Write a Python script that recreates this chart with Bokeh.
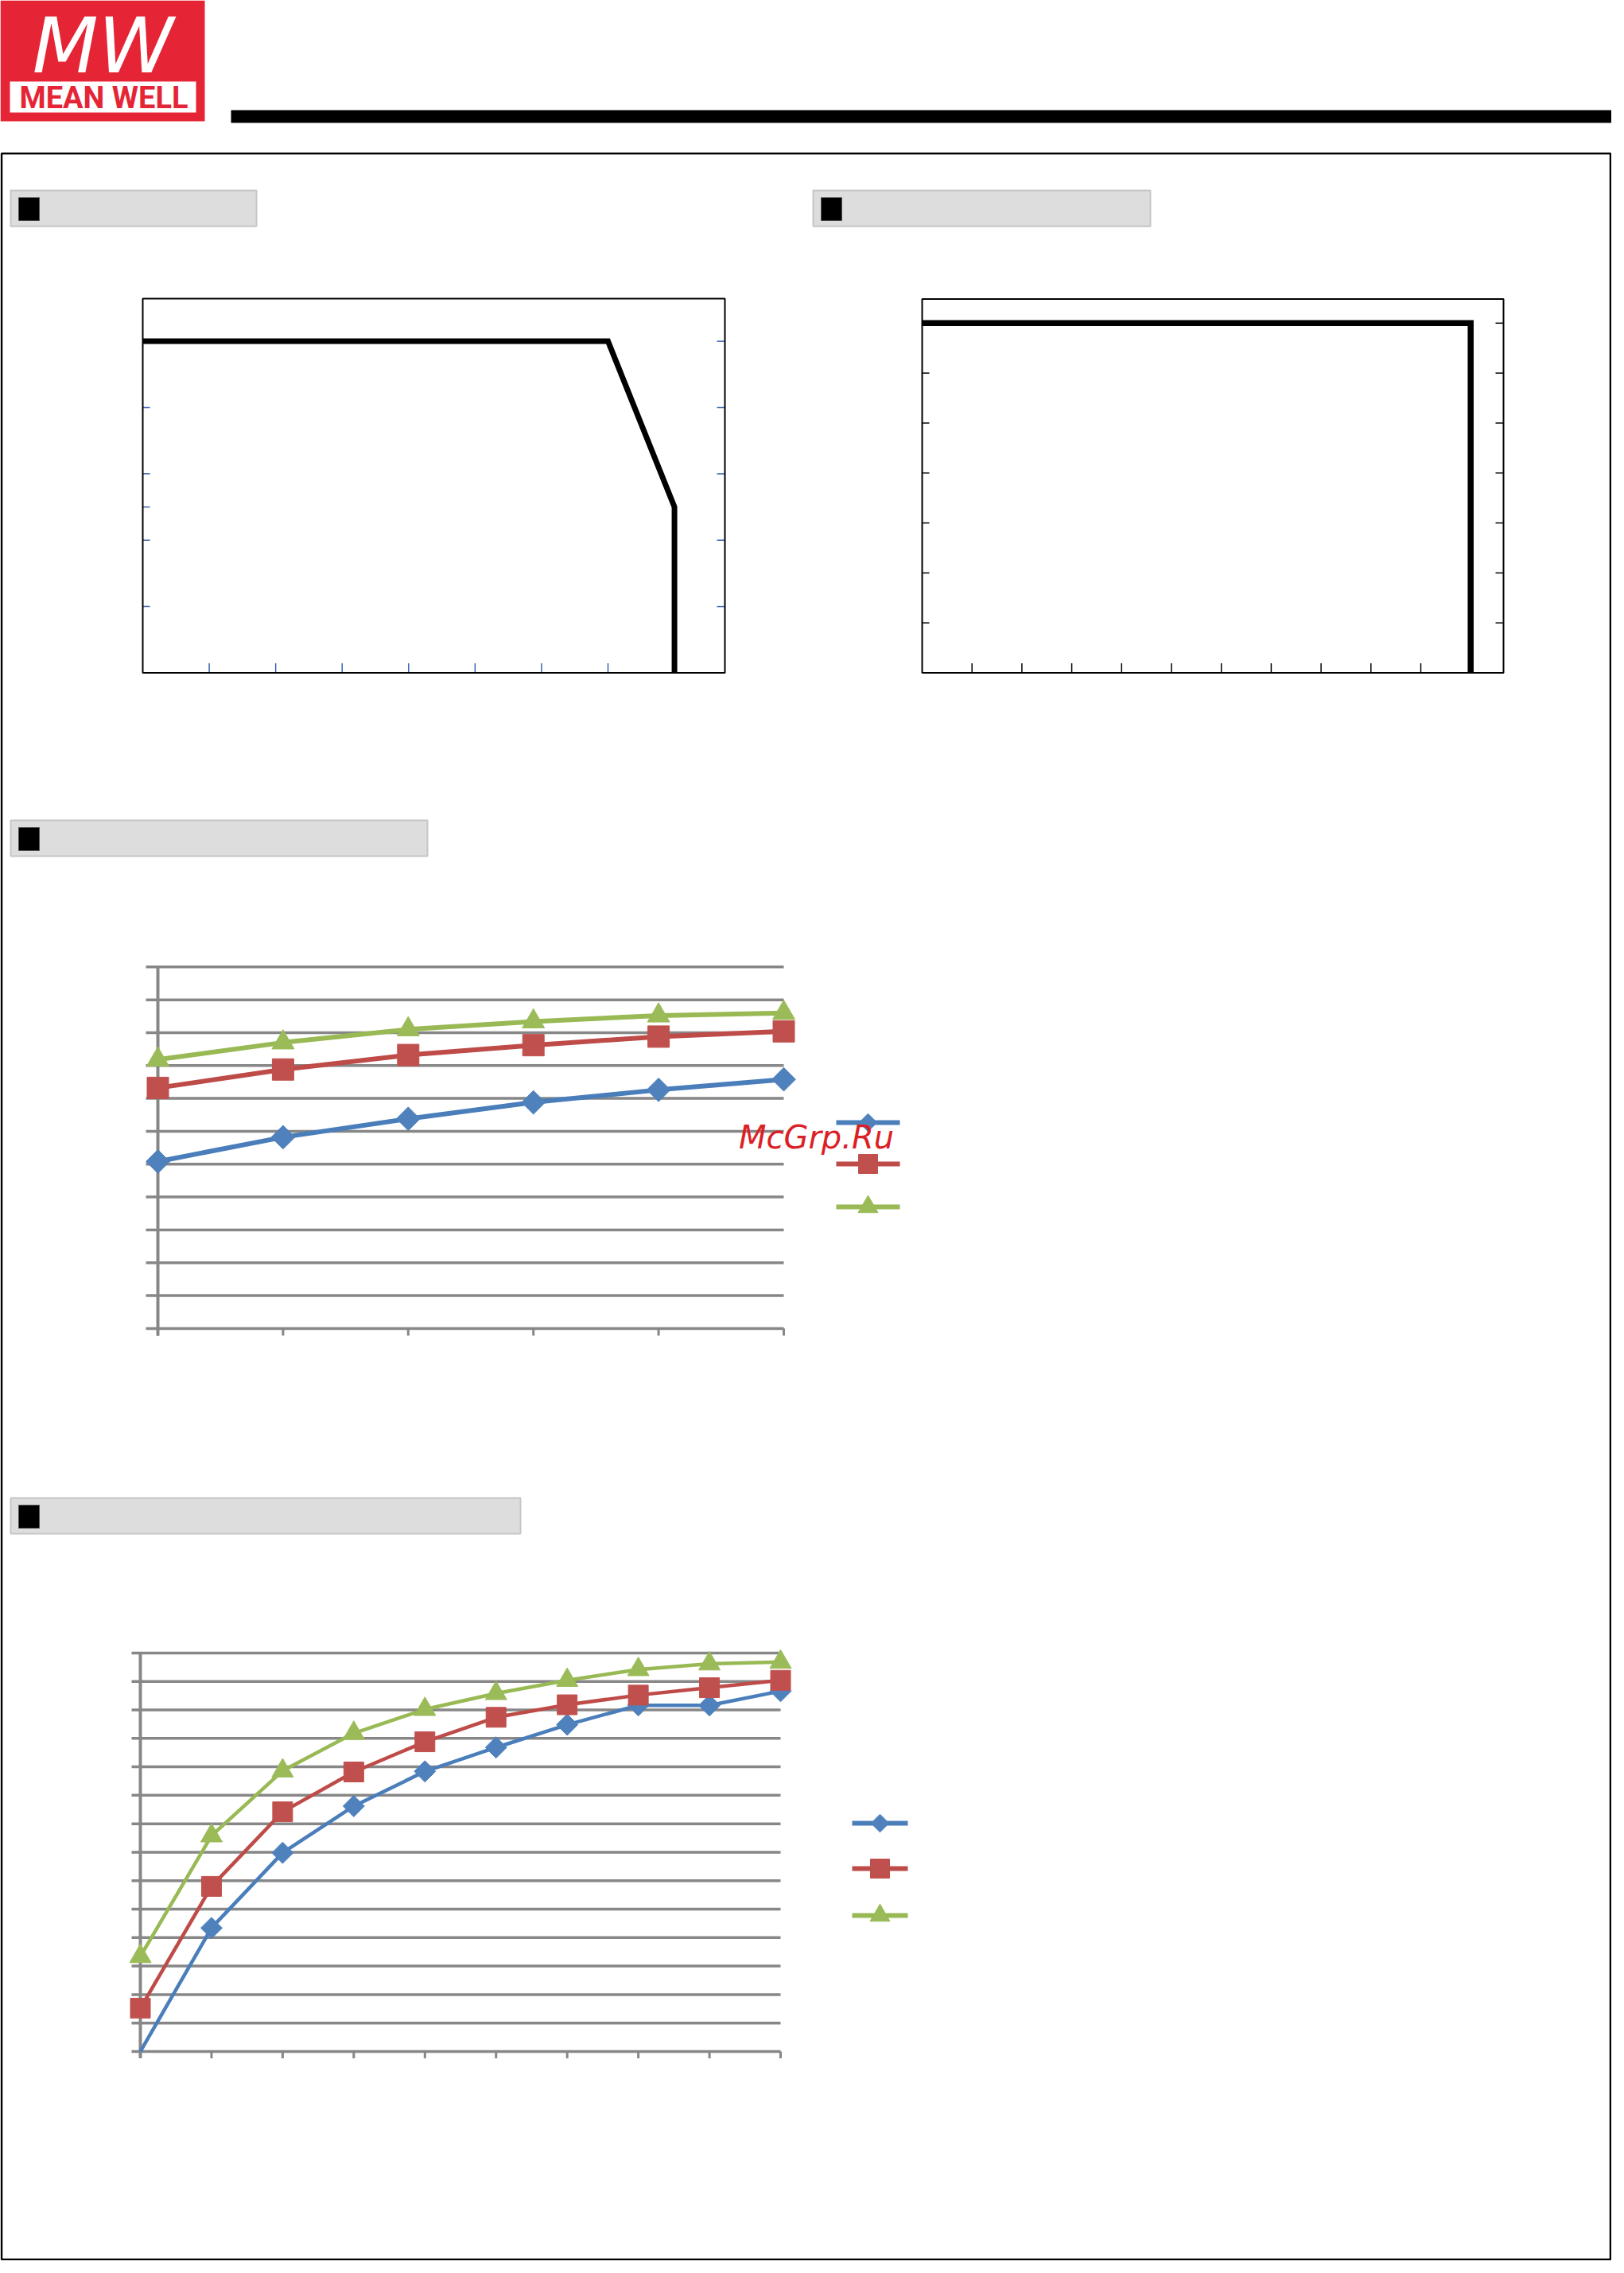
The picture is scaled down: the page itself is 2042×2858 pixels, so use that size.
import math
from bokeh.plotting import figure
from bokeh.models import Range1d
from bokeh.embed import file_html
from bokeh.resources import INLINE
from bokeh.core.properties import value

# ---------------- data ----------------
# Derating curve (ambient temperature vs load %)
derate_temp = [-30, 40, 50, 50]
derate_load = [100, 100, 50, 0]
derate_xticks = [-20, -10, 0, 10, 20, 30, 40]
derate_yticks_left = [20, 40, 50, 60, 80]
derate_yticks_right = [20, 40, 60, 80, 100]

# Static characteristics
static_x = [0, 110, 110]
static_y = [70, 70, 0]
static_xticks = [10, 20, 30, 40, 50, 60, 70, 80, 90, 100]
static_yticks = [10, 20, 30, 40, 50, 60, 70]

# Efficiency vs input voltage (three models)
vin_points = [1, 2, 3, 4, 5, 6]
eff_vin_a = [65.4, 69.1, 71.9, 74.4, 76.3, 77.9]
eff_vin_b = [76.6, 79.4, 81.6, 83.1, 84.4, 85.2]
eff_vin_c = [80.9, 83.5, 85.5, 86.7, 87.6, 88.0]
vin_yticks = [40, 45, 50, 55, 60, 65, 70, 75, 80, 85, 90, 95]

# Efficiency vs load (three models)
load_points = [10, 20, 30, 40, 50, 60, 70, 80, 90, 100]
eff_load_a = [20.0, 41.7, 54.9, 63.1, 69.2, 73.4, 77.4, 80.8, 80.8, 83.3]
eff_load_b = [27.6, 49.0, 62.1, 69.1, 74.4, 78.7, 80.9, 82.6, 83.9, 85.2]
eff_load_c = [36.7, 57.9, 69.3, 75.9, 80.1, 82.9, 85.2, 87.1, 88.1, 88.4]
load_yticks = [20, 25, 30, 35, 40, 45, 50, 55, 60, 65, 70, 75, 80, 85, 90]

LINE_COLORS = ["#4A7EBB", "#BE4B48", "#98B954"]
MARK_COLORS = ["#4F81BD", "#C0504D", "#9BBB59"]

# ---------------- page ----------------
PW, PH = 2026, 2842
p = figure(width=PW, height=PH, x_range=Range1d(0, PW), y_range=Range1d(PH, 0),
           output_backend="svg", toolbar_location=None, min_border=0,
           x_axis_location=None, y_axis_location=None, outline_line_color=None,
           background_fill_color="white", border_fill_color="white")
p.grid.visible = False

xr, yr = {}, {}


def add_ranges(name, xv0, xp0, xv1, xp1, yv0, yp0, yv1, yp1):
    kx = (xv1 - xv0) / (xp1 - xp0)
    ky = (yv1 - yv0) / (yp1 - yp0)
    xr[name] = Range1d(start=xv0 - xp0 * kx, end=xv0 + (PW - xp0) * kx)
    yr[name] = Range1d(start=yv0 + (PH - yp0) * ky, end=yv0 + (0 - yp0) * ky)
    return abs(kx), abs(ky)


# logo
p.quad(left=0, right=257, top=0, bottom=152, fill_color="#E52535", line_color=None)
p.quad(left=12, right=246, top=102, bottom=141, fill_color="white", line_color=None)
p.text(x=[129], y=[57], text=["MW"], text_font=value("DejaVu Sans"), text_font_style="italic",
       text_font_size="96px", text_color="white", text_align="center", text_baseline="middle")
p.text(x=[130], y=[122], text=["MEAN WELL"], text_font=value("Roboto"),
       text_font_style="bold", text_font_size="38px", text_color="#E52535",
       text_align="center", text_baseline="middle")
# header bar and frame
p.quad(left=290, right=PW, top=138, bottom=154, fill_color="black", line_color=None)
p.quad(left=1.5, right=PW - 1.5, top=192.5, bottom=PH - 1.5, fill_color=None, line_color="black", line_width=2.5)

# section header boxes
hb_l = [13, 1022, 13, 13]
hb_r = [322, 1446, 537, 654]
hb_t = [239, 239, 1031, 1883]
hb_b = [284, 284, 1076, 1928]
p.quad(left=hb_l, right=hb_r, top=hb_t, bottom=hb_b, fill_color="#DCDDDC", line_color="#C6C6C6", line_width=2)
sq_l = [l + 10 for l in hb_l]
p.quad(left=sq_l, right=[l + 26 for l in sq_l], top=[t + 9 for t in hb_t], bottom=[b - 7 for b in hb_b],
       fill_color="black", line_color="#555555", line_width=1)

# ---------------- chart 1: derating ----------------
kx, ky = add_ranges("derate", -30, 179, 40, 764, 0, 845.5, 100, 428.6)
R = dict(x_range_name="derate", y_range_name="derate")
x_lo, x_hi, y_lo, y_hi = -30, -30 + (911 - 179) * kx, 0, (845.5 - 375) * ky
tick_blue = "#3A62B0"
p.segment(x0=derate_xticks, x1=derate_xticks, y0=[y_lo] * 7, y1=[y_lo + 12 * ky] * 7,
          line_color=tick_blue, line_width=1.5, **R)
p.segment(x0=[x_lo] * 5, x1=[x_lo + 9 * kx] * 5, y0=derate_yticks_left, y1=derate_yticks_left,
          line_color=tick_blue, line_width=1.5, **R)
p.segment(x0=[x_hi - 10 * kx] * 5, x1=[x_hi] * 5, y0=derate_yticks_right, y1=derate_yticks_right,
          line_color=tick_blue, line_width=1.5, **R)
p.line(derate_temp, derate_load, line_color="black", line_width=7, line_join="miter", **R)
p.quad(left=x_lo, right=x_hi, bottom=y_lo, top=y_hi, fill_color=None, line_color="black", line_width=2, **R)

# ---------------- chart 2: static ----------------
kx, ky = add_ranges("static", 0, 1159, 100, 1786, 0, 845.5, 70, 405.8)
R = dict(x_range_name="static", y_range_name="static")
x_lo, x_hi, y_lo, y_hi = 0, (1890 - 1159) * kx, 0, (845.5 - 375.4) * ky
n = len(static_xticks)
p.segment(x0=static_xticks, x1=static_xticks, y0=[y_lo] * n, y1=[y_lo + 12 * ky] * n,
          line_color="black", line_width=1.5, **R)
m = len(static_yticks)
p.segment(x0=[x_lo] * m, x1=[x_lo + 9 * kx] * m, y0=static_yticks, y1=static_yticks,
          line_color="black", line_width=1.5, **R)
p.segment(x0=[x_hi - 10 * kx] * m, x1=[x_hi] * m, y0=static_yticks, y1=static_yticks,
          line_color="black", line_width=1.5, **R)
p.line(static_x, static_y, line_color="black", line_width=7.5, line_join="miter", **R)
p.quad(left=x_lo, right=x_hi, bottom=y_lo, top=y_hi, fill_color=None, line_color="black", line_width=2, **R)

GRID = "#878787"


def eff_chart(name, xs, series, yticks, kx, ky, left_ext, tick_len, lw, msizes):
    R = dict(x_range_name=name, y_range_name=name)
    n = len(yticks)
    p.segment(x0=[xs[0] - left_ext * kx] * n, x1=[xs[-1]] * n, y0=yticks, y1=yticks,
              line_color=GRID, line_width=3.5, **R)
    p.segment(x0=xs, x1=xs, y0=[yticks[0]] * len(xs), y1=[yticks[0] - tick_len * ky] * len(xs),
              line_color=GRID, line_width=3, **R)
    p.segment(x0=[xs[0]], x1=[xs[0]], y0=[yticks[-1]], y1=[yticks[0] - tick_len * ky],
              line_color=GRID, line_width=4, **R)
    for ys, lc in zip(series, LINE_COLORS):
        p.line(xs, ys, line_color=lc, line_width=lw, **R)
    ymin = yticks[0]
    for ys, mc, mk, sz, ang in zip(series, MARK_COLORS, ["square", "square", "triangle"], msizes,
                                   [math.pi / 4, 0, 0]):
        px = [x for x, y in zip(xs, ys) if y > ymin]
        py = [y for y in ys if y > ymin]
        p.scatter(px, py, marker=mk, size=sz, angle=ang, fill_color=mc, line_color=mc, line_width=1, **R)


# ---------------- chart 3: efficiency vs input ----------------
kx, ky = add_ranges("vin", 1, 198, 6, 985, 40, 1669.9, 95, 1215.3)
eff_chart("vin", vin_points, [eff_vin_a, eff_vin_b, eff_vin_c], vin_yticks, kx, ky, 15, 9, 6, [21, 27, 28])

# ---------------- chart 4: efficiency vs load ----------------
kx, ky = add_ranges("load", 10, 176, 100, 981, 20, 2579, 90, 2077.9)
eff_chart("load", load_points, [eff_load_a, eff_load_b, eff_load_c], load_yticks, kx, ky, 11, 8.6, 4.5, [19, 25, 27])

p.extra_x_ranges = xr
p.extra_y_ranges = yr

# legends (page coordinates)
for (lx0, lx1, lys) in [(1051, 1131, [1411, 1463, 1517]), (1071, 1141, [2292, 2349, 2408])]:
    cx = (lx0 + lx1) / 2
    for yy, lc, mc, mk, sz, ang in zip(lys, LINE_COLORS, MARK_COLORS, ["square", "square", "triangle"],
                                       [16, 24, 25], [math.pi / 4, 0, 0]):
        p.segment(x0=[lx0], x1=[lx1], y0=[yy], y1=[yy], line_color=lc, line_width=6)
        p.scatter([cx], [yy], marker=mk, size=sz, angle=ang, fill_color=mc, line_color=mc)

# watermark
p.text(x=[1026], y=[1429], text=["McGrp.Ru"], text_font=value("DejaVu Sans"), text_font_style="italic",
       text_font_size="40px", text_color="#DC1F26", text_align="center", text_baseline="middle")

open("out.html", "w").write(file_html(p, INLINE))
